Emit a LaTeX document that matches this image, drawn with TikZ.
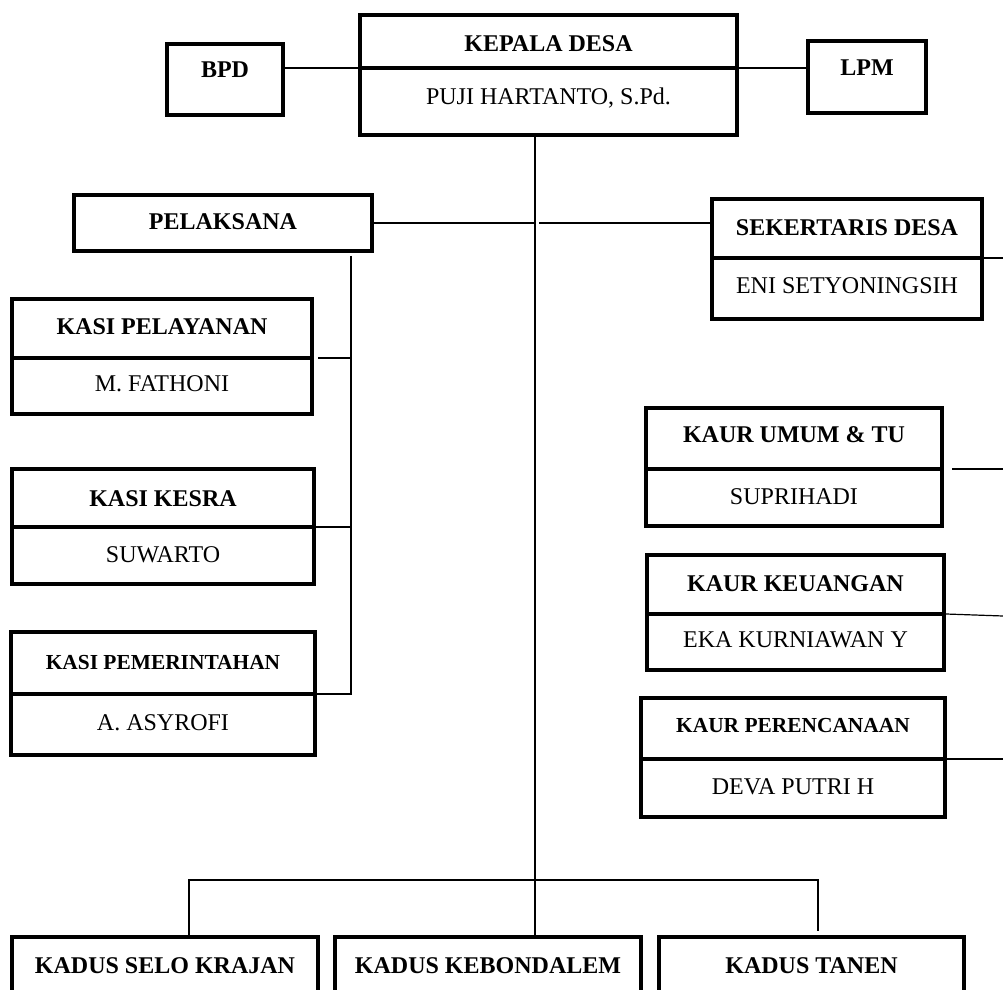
\documentclass[tikz,border=0pt]{standalone}
\usepackage{fontspec}
\setmainfont{Liberation Serif}
\usepackage{tikz}
\usetikzlibrary{shapes.multipart,calc,positioning}
\newlength{\satu}
\setlength{\satu}{0.5pt}
\tikzset{
  jabatan/.style={rectangle split, rectangle split parts=2, draw=black, line width=2pt, inner sep=0pt, anchor=north west, font=\fontsize{12}{14}\selectfont},
  kotak/.style={rectangle, draw=black, line width=2pt, inner sep=0pt, anchor=north west, font=\bfseries\fontsize{12}{14}\selectfont},
  garis/.style={draw=black, line width=0.6pt}
}
\newcommand{\ruang}[2]{\rule[-#2\satu]{0pt}{\dimexpr#1\satu+#2\satu\relax}}
\newcommand{\judul}{\bfseries}
\newcommand{\judulkecil}{\bfseries\fontsize{10.7}{12}\selectfont}

\begin{document}
\begin{tikzpicture}[x=0.5pt, y=-0.5pt]

\useasboundingbox (0,0) rectangle (1003,990);
\clip (0,0) rectangle (1003,990);

\node[jabatan, minimum width=377\satu] (kades) at (358,13) {\ruang{35}{14}\judul KEPALA DESA
\nodepart{two} \ruang{35}{28}PUJI HARTANTO, S.Pd.};

\node[kotak, minimum width=116\satu] (bpd) at (165,42) {\ruang{34}{37}BPD};
\node[kotak, minimum width=118\satu] (lpm) at (806,39) {\ruang{35}{37}LPM};

\node[kotak, minimum width=298\satu] (pelaksana) at (72,193) {\ruang{35}{21}PELAKSANA};

\node[jabatan, minimum width=270\satu] (sekdes) at (710,197) {\ruang{34}{21}\judul SEKERTARIS DESA
\nodepart{two} \ruang{33}{24}ENI SETYONINGSIH};

\node[jabatan, minimum width=300\satu] (pelayanan) at (10,297) {\ruang{34}{21}\judul KASI PELAYANAN
\nodepart{two} \ruang{32}{20}M. FATHONI};

\node[jabatan, minimum width=302\satu] (kesra) at (10,467) {\ruang{35}{19}\judul KASI KESRA
\nodepart{two} \ruang{33}{20}SUWARTO};

\node[jabatan, minimum width=304\satu] (pemerintahan) at (9,630) {\ruang{35}{23}\judulkecil KASI PEMERINTAHAN
\nodepart{two} \ruang{34}{23}A. ASYROFI};

\node[jabatan, minimum width=296\satu] (umum) at (644,406) {\ruang{33}{24}\judul KAUR UMUM \& TU
\nodepart{two} \ruang{33}{20}SUPRIHADI};

\node[jabatan, minimum width=297\satu] (keuangan) at (645,553) {\ruang{34}{21}\judul KAUR KEUANGAN
\nodepart{two} \ruang{31}{21}EKA KURNIAWAN Y};

\node[jabatan, minimum width=304\satu] (perencanaan) at (639,696) {\ruang{32}{25}\judulkecil KAUR PERENCANAAN
\nodepart{two} \ruang{33}{21}DEVA PUTRI H};

\node[kotak, minimum width=306\satu] (selo) at (10,935) {\ruang{36}{60}KADUS SELO KRAJAN};
\node[kotak, minimum width=306\satu] (kebon) at (333,935) {\ruang{36}{60}KADUS KEBONDALEM};
\node[kotak, minimum width=305\satu] (tanen) at (657,935) {\ruang{36}{60}KADUS TANEN};

\coordinate (poros) at (535,0);
\coordinate (cabang) at (351,0);
\coordinate (tepi) at (1003,0);
\coordinate (kiri) at (189,880);
\coordinate (kanan) at (818,880);

\draw[garis] (bpd.east |- kades.one split west) -- (kades.one split west);
\draw[garis] (kades.one split east) -- (kades.one split east -| lpm.west);
\draw[garis] (kades.south -| poros) -- (kebon.north -| poros);
\draw[garis] (pelaksana.east) -- (pelaksana.east -| poros);
\draw[garis] (sekdes.west |- pelaksana.east) -- ($(pelaksana.east -| poros)+(4,0)$);
\draw[garis] (sekdes.one split east) -- (sekdes.one split east -| tepi);
\draw[garis, shorten <=4pt] (umum.one split east) -- (umum.one split east -| tepi);
\draw[garis] (keuangan.one split east) -- ($(keuangan.one split east -| tepi)+(0,2)$);
\draw[garis] (perencanaan.one split east) -- (perencanaan.one split east -| tepi);
\draw[garis] ($(pelaksana.south -| cabang)+(0,3)$) -- (pemerintahan.one split east -| cabang) -- (pemerintahan.one split east);
\draw[garis, shorten <=2pt] (pelayanan.one split east) -- (pelayanan.one split east -| cabang);
\draw[garis] (kesra.one split east) -- (kesra.one split east -| cabang);
\draw[garis] (selo.north -| kiri) -- (kiri) -- (kanan) -- ($(tanen.north -| kanan)+(0,-4)$);

\end{tikzpicture}
\end{document}
